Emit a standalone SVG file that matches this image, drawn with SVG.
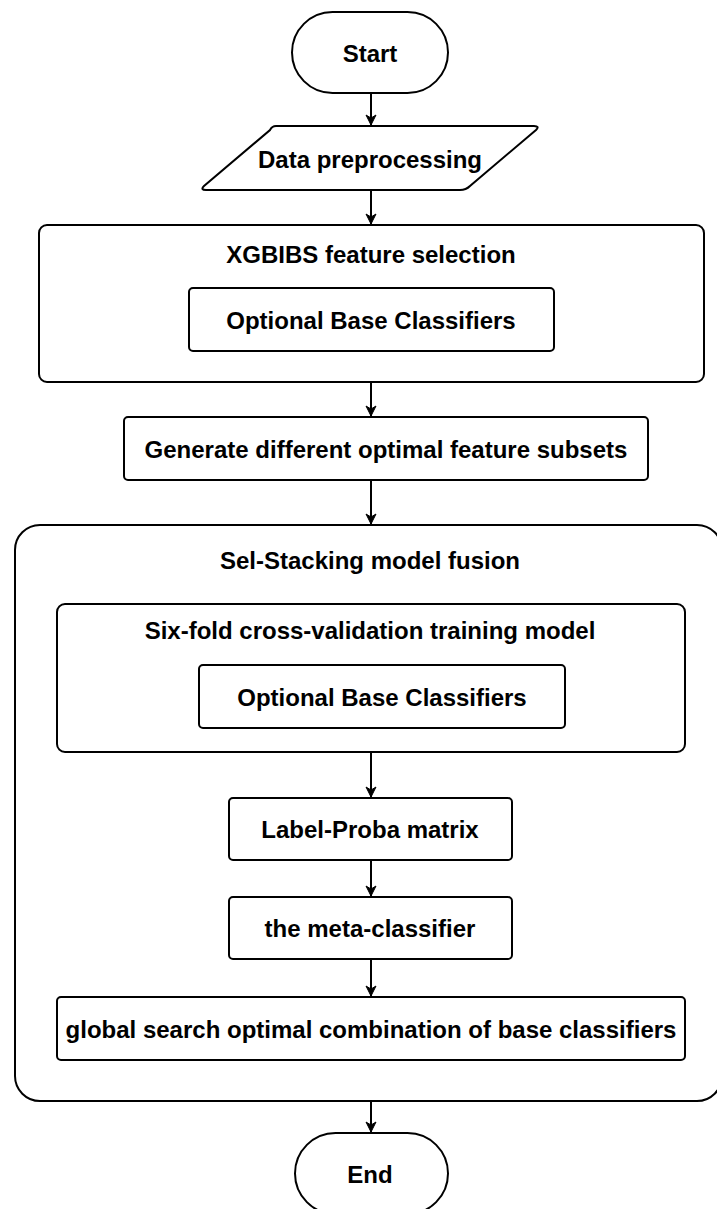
<svg xmlns="http://www.w3.org/2000/svg" width="717" height="1209" viewBox="0 0 717 1209">
  <style>
    .shape { fill: #ffffff; stroke: #000000; stroke-width: 2; }
    .label { font-family: "Liberation Sans", Arial, sans-serif; font-weight: bold; font-size: 24px; fill: #000000; text-anchor: middle; dominant-baseline: central; }
    .edge { fill: none; stroke: #000000; stroke-width: 2; }
  </style>
  <defs>
    <marker id="arrow" viewBox="0 0 12 12" refX="11" refY="6" markerWidth="12" markerHeight="12" markerUnits="userSpaceOnUse" orient="auto">
      <path d="M1,1 L11,6 L1,11 L4,6 Z" fill="#000000" stroke="#000000" stroke-width="1" stroke-linejoin="miter"/>
    </marker>
  </defs>
  <rect width="717" height="1209" fill="#ffffff"/>

  <g id="start">
    <rect class="shape" x="292" y="12" width="156" height="81" rx="40.5" ry="40.5"/>
    <text class="label" x="370" y="53">Start</text>
  </g>

  <g id="data-preprocessing">
    <path class="shape" d="M276,126 L534,126 Q540,126 536,130 L470,186 Q466,190 460,190 L206,190 Q200,190 204,186 L270,130 Q272,126 276,126 Z"/>
    <text class="label" x="370" y="159">Data preprocessing</text>
  </g>

  <g id="xgbibs-feature-selection">
    <rect class="shape" x="39" y="225" width="665" height="157" rx="8" ry="8"/>
    <text class="label" x="371" y="254">XGBIBS feature selection</text>
  </g>

  <g id="optional-base-classifiers-1">
    <rect class="shape" x="189" y="288" width="365" height="63" rx="4" ry="4"/>
    <text class="label" x="371" y="320">Optional Base Classifiers</text>
  </g>

  <g id="generate-subsets">
    <rect class="shape" x="124" y="417" width="524" height="63" rx="4" ry="4"/>
    <text class="label" x="386" y="449">Generate different optimal feature subsets</text>
  </g>

  <g id="sel-stacking-model-fusion">
    <rect class="shape" x="15" y="525" width="707" height="576" rx="25" ry="25"/>
    <text class="label" x="370" y="560">Sel-Stacking model fusion</text>
  </g>

  <g id="six-fold-cross-validation">
    <rect class="shape" x="57" y="604" width="628" height="148" rx="8" ry="8"/>
    <text class="label" x="370" y="630">Six-fold cross-validation training model</text>
  </g>

  <g id="optional-base-classifiers-2">
    <rect class="shape" x="199" y="665" width="366" height="63" rx="4" ry="4"/>
    <text class="label" x="382" y="697">Optional Base Classifiers</text>
  </g>

  <g id="label-proba-matrix">
    <rect class="shape" x="229" y="798" width="283" height="62" rx="4" ry="4"/>
    <text class="label" x="370" y="829">Label-Proba matrix</text>
  </g>

  <g id="meta-classifier">
    <rect class="shape" x="229" y="897" width="283" height="62" rx="4" ry="4"/>
    <text class="label" x="370" y="928">the meta-classifier</text>
  </g>

  <g id="global-search">
    <rect class="shape" x="57" y="997" width="628" height="63" rx="4" ry="4"/>
    <text class="label" x="371" y="1029">global search optimal combination of base classifiers</text>
  </g>

  <g id="end">
    <rect class="shape" x="295" y="1133" width="153" height="81" rx="40.5" ry="40.5"/>
    <text class="label" x="370" y="1174">End</text>
  </g>

  <g id="connectors">
    <line class="edge" x1="371" y1="93" x2="371" y2="125" marker-end="url(#arrow)"/>
    <line class="edge" x1="371" y1="190" x2="371" y2="224" marker-end="url(#arrow)"/>
    <line class="edge" x1="371" y1="382" x2="371" y2="416" marker-end="url(#arrow)"/>
    <line class="edge" x1="371" y1="480" x2="371" y2="524" marker-end="url(#arrow)"/>
    <line class="edge" x1="371" y1="752" x2="371" y2="797" marker-end="url(#arrow)"/>
    <line class="edge" x1="371" y1="860" x2="371" y2="896" marker-end="url(#arrow)"/>
    <line class="edge" x1="371" y1="959" x2="371" y2="996" marker-end="url(#arrow)"/>
    <line class="edge" x1="371" y1="1101" x2="371" y2="1132" marker-end="url(#arrow)"/>
  </g>
</svg>
